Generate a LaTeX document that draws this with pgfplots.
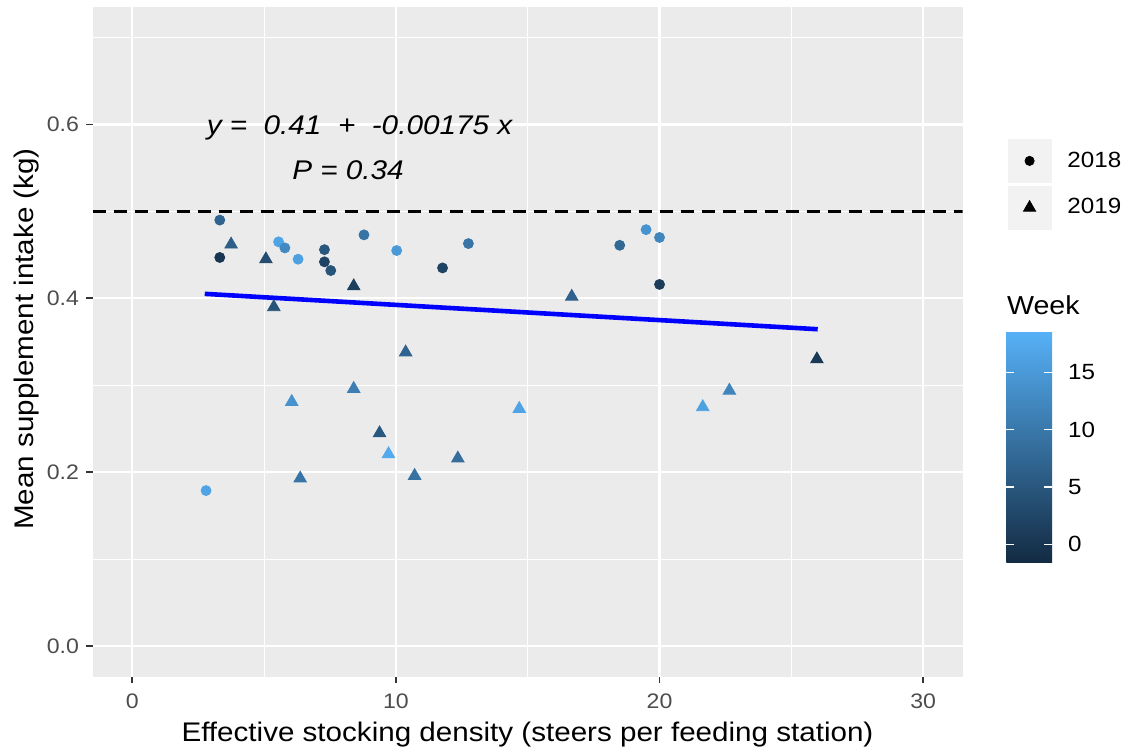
\documentclass[border=0pt]{standalone}
\usepackage{fontspec}
\setmainfont{Liberation Sans}[FakeStretch=1.1]
\usepackage{pgfplots}
\usepackage{pgfplotstable}
\pgfplotsset{compat=1.18, /pgf/number format/assume math mode=true}
\definecolor{ggbg}{HTML}{EBEBEB}
\definecolor{tickgray}{HTML}{333333}
\definecolor{labgray}{HTML}{4D4D4D}
\definecolor{legkey}{HTML}{F2F2F2}
\pgfplotsset{ggkey/.style={legend image code/.code={%
  \fill[legkey] (0pt,-10.75pt) rectangle (21.5pt,10.75pt);
  \draw[##1] plot coordinates {(10.75pt,0pt)};}}}

\pgfplotstableread{
x y w
3.32 0.490 7
3.32 0.447 0
5.55 0.465 16.5
5.79 0.458 12.5
6.29 0.445 16
7.29 0.456 5
7.29 0.442 2
7.53 0.432 4.5
8.79 0.473 9.5
10.03 0.455 15
12.75 0.463 9.5
11.77 0.435 2
2.80 0.179 16.5
18.49 0.461 7.5
19.49 0.479 14
20.00 0.470 12
20.00 0.416 1
}\circles

\pgfplotstableread{
x y w
3.75 0.462 6
5.07 0.445 3.5
8.40 0.414 1.5
5.37 0.390 4.5
10.37 0.338 7
8.40 0.296 11
6.05 0.281 14
9.38 0.245 5
9.72 0.221 17.5
12.35 0.216 8.5
10.71 0.196 9
6.37 0.193 9.5
14.68 0.273 16.5
16.67 0.402 6.5
25.97 0.330 0.5
22.65 0.294 12
21.64 0.275 16
}\triangles

\begin{document}
\begin{tikzpicture}[x=1pt,y=1pt]
\useasboundingbox (0,0) rectangle (564.5,376.5);
\begin{axis}[
  at={(46.35pt,38.15pt)}, anchor=south west,
  scale only axis, width=435pt, height=334.85pt,
  xmin=-1.5, xmax=31.5, ymin=-0.035, ymax=0.735,
  axis background/.style={fill=ggbg},
  axis line style={draw=none},
  xtick={0,10,20,30}, ytick={0,0.2,0.4,0.6},
  minor xtick={5,15,25}, minor ytick={0.1,0.3,0.5,0.7},
  grid=both,
  major grid style={white, line width=1.1pt},
  minor grid style={white, line width=0.55pt},
  tick pos=left, tick align=outside,
  major tick length=3.3pt, minor tick length=0pt,
  tick style={color=tickgray, line width=0.9pt},
  xticklabel style={font=\fontsize{10.5}{12}\selectfont, text=labgray, inner sep=0pt, yshift=-5pt},
  yticklabel style={font=\fontsize{10.5}{12}\selectfont, text=labgray, inner sep=0pt, xshift=-3.35pt,
     /pgf/number format/.cd, fixed, fixed zerofill, precision=1},
  colormap={gg}{rgb255=(19,43,67) rgb255=(86,177,247)},
  point meta min=-1.55, point meta max=18.6,
  colorbar,
  colorbar/width=22.8pt,
  colorbar style={
    at={(parent axis.north east)}, anchor=north west, xshift=13.35pt, yshift=-162pt,
    scale only axis, height=115.5pt,
    axis line style={draw=none},
    ytick={0,5,10,15},
    ytick pos=both, yticklabel pos=right,
    tick align=inside, major tick length=4pt,
    ytick style={draw=white, line width=0.6pt},
    yticklabel style={font=\fontsize{11}{13}\selectfont, text=black, inner sep=0pt, anchor=west, xshift=7.85pt},
  },
  legend style={at={(1.0517,0.8029)}, anchor=north west, draw=none, fill=none,
    inner sep=0pt, outer sep=0pt, row sep=1.5pt, column sep=8pt,
    font=\fontsize{11}{13}\selectfont, nodes={inner sep=0pt}},
  legend cell align=left,
]
\addplot[forget plot, black, line width=1.3pt, dash pattern=on 6.5pt off 4pt] coordinates {(-1.5,0.5) (31.5,0.5)};
\addplot[forget plot, blue, line width=2.3pt] coordinates {(2.75,0.40519) (26,0.3645)};
\addplot[forget plot, scatter, only marks, mark=*, mark size=2.5pt, scatter src=explicit,
  scatter/use mapped color={draw=mapped color, fill=mapped color}] table[x=x, y=y, meta=w] {\circles};
\addplot[forget plot, scatter, only marks, mark=triangle*, mark size=3.6pt, scatter src=explicit,
  scatter/use mapped color={draw=mapped color, fill=mapped color}] table[x=x, y=y, meta=w] {\triangles};
\addlegendimage{only marks, mark=*, black, mark size=2.3pt, ggkey}
\addlegendentry{2018}
\addlegendimage{only marks, mark=triangle*, black, mark size=3.5pt, ggkey}
\addlegendentry{2019}
\end{axis}
\node[anchor=base, inner sep=0pt, font=\fontsize{13.5}{15}\selectfont\itshape] at (179.75,309) {y =\ \ 0.41\ \ +\ \ -0.00175 x};
\node[anchor=base, inner sep=0pt, font=\fontsize{13.5}{15}\selectfont\itshape] at (174,286.5) {P = 0.34};
\node[anchor=base, inner sep=0pt, font=\fontsize{13.45}{15}\selectfont] at (263.75,5.65) {Effective stocking density (steers per feeding station)};
\node[anchor=base, rotate=90, inner sep=0pt, font=\fontsize{13.45}{15}\selectfont] at (16.65,207) {Mean supplement intake (kg)};
\node[anchor=base west, inner sep=0pt, font=\fontsize{13}{15}\selectfont] at (503.35,219.35) {Week};
\end{tikzpicture}
\end{document}
